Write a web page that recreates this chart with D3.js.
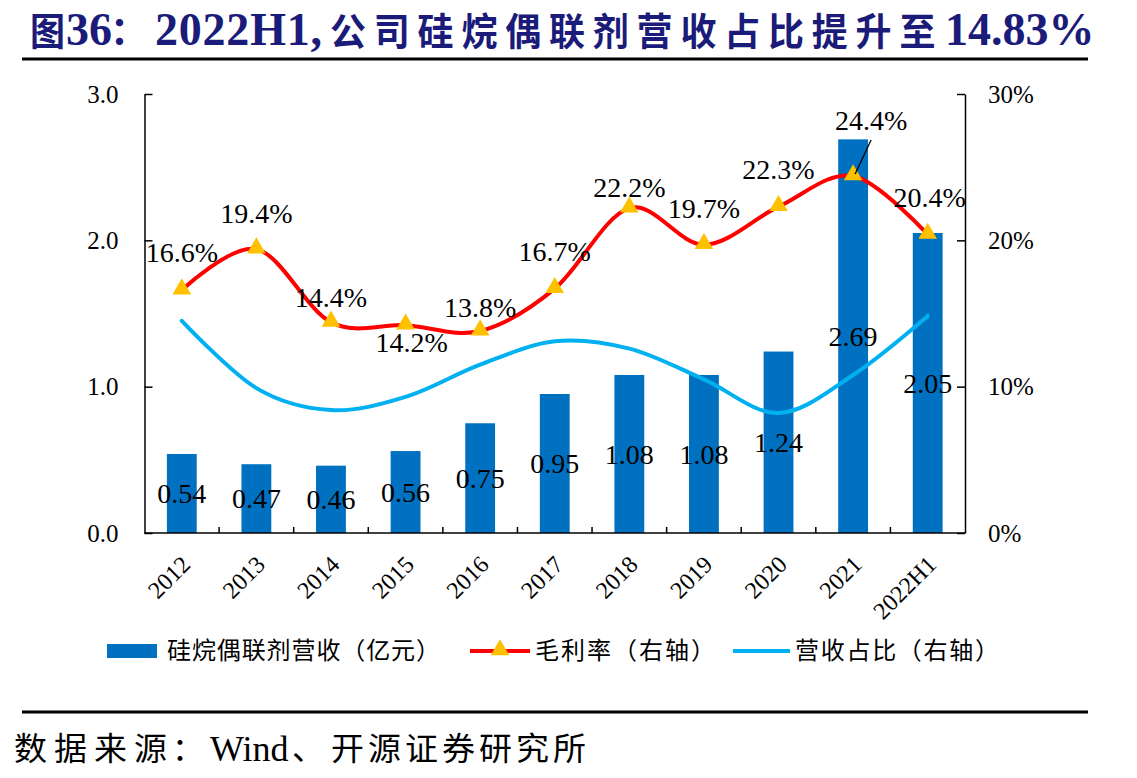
<!DOCTYPE html>
<html><head><meta charset="utf-8">
<script src="https://cdn.jsdelivr.net/npm/d3@7"></script>
<style>html,body{margin:0;padding:0;background:#fff;}svg{display:block;}</style>
</head><body>
<svg id="chart" width="1137" height="778"></svg>
<script>
const categories = ["2012","2013","2014","2015","2016","2017","2018","2019","2020","2021","2022H1"];
const revenue = [0.54,0.47,0.46,0.56,0.75,0.95,1.08,1.08,1.24,2.69,2.05];
const grossMargin = [16.6,19.4,14.4,14.2,13.8,16.7,22.2,19.7,22.3,24.4,20.4];
const revenueShare = [14.5,9.9,8.4,9.3,11.5,13.1,12.6,10.5,8.2,10.8,14.83];
const leftTicks = [0,1,2,3];
const rightTicks = [0,10,20,30];
const marginLabelOffsets = [[0,-38],[0,-36],[0,-25],[6,17],[0,-24],[0,-37],[0,-21],[0,-37],[0,-37],[18,-56],[2,-37]];

const serif = "'Liberation Serif','Times New Roman','Noto Sans CJK SC',serif";
const cjk = "'Liberation Serif','Noto Sans CJK SC',sans-serif";
const cjkOnly = "'Noto Sans CJK SC',sans-serif";
const svg = d3.select("#chart");

const x0 = 144.5, x1 = 965, yTop = 94, yBot = 533;
const x = d3.scaleBand().domain(categories).range([x0, x1]).paddingInner(0.6).paddingOuter(0.3);
const xc = d => x(d) + x.bandwidth()/2;
const yL = d3.scaleLinear().domain([0,3]).range([yBot, yTop]);
const yR = d3.scaleLinear().domain([0,30]).range([yBot, yTop]);

function seg(g, str, xs, y, size, fam, xe, adj) {
  const t = g.append("text").attr("x", xs).attr("y", y).attr("font-family", fam).attr("font-size", size).text(str);
  if (xe !== undefined) t.attr("textLength", xe - xs).attr("lengthAdjust", adj || "spacingAndGlyphs");
  return t;
}
function cjkRun(g, str, xs, pitch, w, y, size) {
  Array.from(str).forEach((ch, i) => seg(g, ch, xs + i*pitch, y, size, cjkOnly, xs + i*pitch + w));
}

// Title
const tg = svg.append("g").attr("fill", "#1b1b7a").attr("font-weight","bold");
cjkRun(tg, "图", 30, 44, 35, 45, 38);
seg(tg, "36", 66, 45, 46, serif);
seg(tg, "：", 110, 44, 38, cjkOnly);
seg(tg, "2022H1,", 155, 45, 46, serif, 322, "spacing");
cjkRun(tg, "公司硅烷偶联剂营收占比提升至", 330, 43.8, 36, 45, 38);
seg(tg, "14.83%", 945, 45, 46, serif);
svg.append("line").attr("x1",22).attr("x2",1088).attr("y1",59).attr("y2",59)
  .attr("stroke","#000").attr("stroke-width",3);

// Footer
svg.append("line").attr("x1",22).attr("x2",1088).attr("y1",712).attr("y2",712)
  .attr("stroke","#000").attr("stroke-width",3);
const fg = svg.append("g").attr("fill","#000");
cjkRun(fg, "数据来源", 14, 40, 33, 760, 32);
seg(fg, "：", 172, 760, 32, cjkOnly);
seg(fg, "Wind", 210, 761, 36, serif);
seg(fg, "、", 292, 760, 32, cjkOnly);
cjkRun(fg, "开源证券研究所", 331, 37, 33, 760, 32);

// Bars
svg.append("g").selectAll("rect").data(categories).join("rect")
  .attr("x", d => x(d)).attr("width", x.bandwidth())
  .attr("y", (d,i) => yL(revenue[i])).attr("height", (d,i) => yBot - yL(revenue[i]))
  .attr("fill","#0070C0");

// Axes
const axisL = d3.axisLeft(yL).tickValues(leftTicks).tickFormat(d3.format(".1f")).tickSizeInner(-8).tickSizeOuter(0).tickPadding(26);
const gL = svg.append("g").attr("transform",`translate(${x0},0)`).call(axisL);
const axisR = d3.axisRight(yR).tickValues(rightTicks).tickFormat(d => d + "%").tickSizeInner(-8).tickSizeOuter(0).tickPadding(23);
const gR = svg.append("g").attr("transform",`translate(${x1},0)`).call(axisR);
[gL,gR].forEach(g => {
  g.select(".domain").attr("stroke","#000").attr("stroke-width",1.5);
  g.selectAll(".tick line").attr("stroke","#000").attr("stroke-width",1.5);
  g.selectAll(".tick text").attr("font-family",serif).attr("font-size",25).attr("fill","#000");
});

// X axis
const gX = svg.append("g");
gX.append("line").attr("x1",x0).attr("x2",x1).attr("y1",yBot).attr("y2",yBot).attr("stroke","#000").attr("stroke-width",1.5);
const step = x.step();
gX.selectAll("line.tk").data(d3.range(1, categories.length)).join("line").attr("class","tk")
  .attr("x1", k => x0 + k*step).attr("x2", k => x0 + k*step)
  .attr("y1", yBot).attr("y2", yBot-6).attr("stroke","#000").attr("stroke-width",1.5);
gX.selectAll("text").data(categories).join("text")
  .attr("transform", d => `translate(${xc(d)+10},${yBot+33}) rotate(-45)`)
  .attr("text-anchor","end").attr("font-family",serif).attr("font-size",24).attr("fill","#000")
  .text(d => d);

// Lines
const curve = d3.curveCardinal.tension(0);
const lineShare = d3.line().x((d,i)=>xc(categories[i])).y(d=>yR(d)).curve(curve);
svg.append("path").datum(revenueShare).attr("d", lineShare)
  .attr("fill","none").attr("stroke","#00B0F0").attr("stroke-width",4).attr("stroke-linecap","round");
const lineMargin = d3.line().x((d,i)=>xc(categories[i])).y(d=>yR(d)).curve(curve);
svg.append("path").datum(grossMargin).attr("d", lineMargin)
  .attr("fill","none").attr("stroke","#FF0000").attr("stroke-width",4).attr("stroke-linecap","round");

const tri = d3.symbol().type(d3.symbolTriangle).size(150);
svg.append("g").selectAll("path").data(grossMargin).join("path")
  .attr("d", tri).attr("transform",(d,i)=>`translate(${xc(categories[i])},${yR(d)-1})`)
  .attr("fill","#FFC000");

// Leader line for 2021 margin label
{
  const i = 9, px = xc(categories[i]), py = yR(grossMargin[i]);
  svg.append("line").attr("x1",px+2).attr("y1",py-2).attr("x2",px+18).attr("y2",py-36)
    .attr("stroke","#000").attr("stroke-width",1.3);
}

// Margin labels
svg.append("g").selectAll("text").data(grossMargin).join("text")
  .attr("x",(d,i)=>xc(categories[i]) + marginLabelOffsets[i][0])
  .attr("y",(d,i)=>yR(d) + marginLabelOffsets[i][1])
  .attr("dy","0.35em").attr("text-anchor","middle")
  .attr("font-family",serif).attr("font-size",28).attr("fill","#000")
  .text(d => d.toFixed(1) + "%");

// Bar labels
svg.append("g").selectAll("text").data(revenue).join("text")
  .attr("x",(d,i)=>xc(categories[i]))
  .attr("y",(d,i)=>(yL(d)+yBot)/2)
  .attr("dy","0.35em").attr("text-anchor","middle")
  .attr("font-family",serif).attr("font-size",28).attr("fill","#000")
  .text(d => d.toFixed(2));

// Legend
const lg = svg.append("g").attr("font-family",cjk).attr("font-size",24).attr("fill","#000");
lg.append("rect").attr("x",107).attr("y",644).attr("width",50).attr("height",14).attr("fill","#0070C0");
lg.append("text").attr("x",167).attr("y",651).attr("dy","0.35em").attr("textLength",273).attr("lengthAdjust","spacing").text("硅烷偶联剂营收（亿元）");
lg.append("line").attr("x1",470).attr("x2",530).attr("y1",651).attr("y2",651).attr("stroke","#FF0000").attr("stroke-width",4);
lg.append("path").attr("d",tri).attr("transform","translate(500,650)").attr("fill","#FFC000");
lg.append("text").attr("x",535).attr("y",651).attr("dy","0.35em").attr("textLength",180).attr("lengthAdjust","spacing").text("毛利率（右轴）");
lg.append("line").attr("x1",733).attr("x2",790).attr("y1",651).attr("y2",651).attr("stroke","#00B0F0").attr("stroke-width",4);
lg.append("text").attr("x",795).attr("y",651).attr("dy","0.35em").attr("textLength",204).attr("lengthAdjust","spacing").text("营收占比（右轴）");
</script>
</body></html>
